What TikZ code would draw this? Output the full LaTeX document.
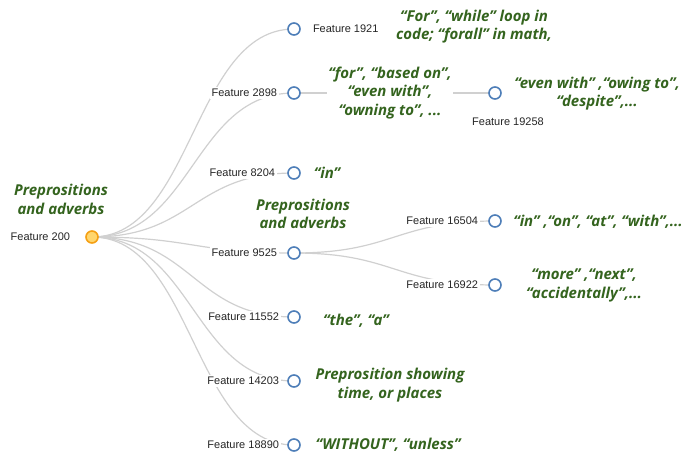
\documentclass[tikz,border=0pt]{standalone}
\usepackage{fontspec}
\setmainfont{Liberation Sans}
\newfontfamily\greenfont{Open Sans}
\usetikzlibrary{positioning,calc,backgrounds}
\definecolor{txtgreen}{RGB}{52,100,30}
\definecolor{edgegray}{RGB}{208,208,208}
\definecolor{nodeblue}{RGB}{78,126,184}
\definecolor{rootfill}{RGB}{255,214,110}
\definecolor{rootdraw}{RGB}{245,160,20}
\tikzset{
  circ/.style={circle, draw=nodeblue, line width=1.6pt, fill=white, minimum size=12pt, inner sep=0pt},
  rootcirc/.style={circle, draw=rootdraw, line width=1.6pt, fill=rootfill, minimum size=12pt, inner sep=0pt},
  lab/.style={font=\fontsize{11}{13}\selectfont, text=black!85, fill=white, inner sep=2pt},
  gtext/.style={font=\greenfont\bfseries\itshape\fontsize{15}{18.5}\selectfont, text=txtgreen, align=center, fill=white, inner sep=1pt},
  link/.style={draw=edgegray, line width=1.2pt,
    to path={let \p1=(\tikztostart), \p2=(\tikztotarget) in
      .. controls ({(\x1+\x2)/2},\y1) and ({(\x1+\x2)/2},\y2) .. (\tikztotarget)}}
}
\begin{document}
\begin{tikzpicture}[x=1pt,y=-1pt]
\useasboundingbox (0,0) rectangle (684,458);
% circles
\node[rootcirc] (n200) at (92,237) {};
\node[circ] (n1921) at (294,29) {};
\node[circ] (n2898) at (294,93) {};
\node[circ] (n8204) at (294,173) {};
\node[circ] (n9525) at (294,253) {};
\node[circ] (n11552) at (294,317) {};
\node[circ] (n14203) at (294,381) {};
\node[circ] (n18890) at (294,445) {};
\node[circ] (n19258) at (495,93) {};
\node[circ] (n16504) at (495,221) {};
\node[circ] (n16922) at (495,285) {};
% feature labels
\node[lab, left=13pt of n200] (l200) {Feature 200};
\node[lab, right=10pt of n1921] (l1921) {Feature 1921};
\node[lab, left=8pt of n2898] (l2898) {Feature 2898};
\node[lab, left=10pt of n8204] (l8204) {Feature 8204};
\node[lab, left=8pt of n9525] (l9525) {Feature 9525};
\node[lab, left=6pt of n11552] (l11552) {Feature 11552};
\node[lab, left=6pt of n14203] (l14203) {Feature 14203};
\node[lab, left=6pt of n18890] (l18890) {Feature 18890};
\node[lab] (l19258) at (508,122) {Feature 19258};
\node[lab, left=8pt of n16504] (l16504) {Feature 16504};
\node[lab, left=8pt of n16922] (l16922) {Feature 16922};
% green descriptions
\node[gtext] (g200) at (61,199.5) {Preprositions\\and adverbs};
\node[gtext] (g1921) at (474,26.5) {“For”, “while” loop in\\code; “forall” in math,};
\node[gtext] (g2898) at (390,93) {“for”, “based on”,\\“even with”,\\“owning to”, ...};
\node[gtext] (g19258) at (597,93.5) {“even with” ,“owing to”,\\“despite”,...};
\node[gtext] (g8204) at (327,173) {“in”};
\node[gtext] (g9525) at (303,214) {Preprositions\\and adverbs};
\node[gtext] (g16504) at (598,222) {“in” ,“on”, “at”, “with”,...};
\node[gtext] (g16922) at (584,285.5) {“more” ,“next”,\\“accidentally”,...};
\node[gtext] (g11552) at (356,321) {“the”, “a”};
\node[gtext] (g14203) at (390,385) {Preprosition showing\\time, or places};
\node[gtext] (g18890) at (388,445) {“WITHOUT”, “unless”};
% edges
\begin{pgfonlayer}{background}
\foreach \c in {n1921,n2898,n8204,n9525,n11552,n14203,n18890}
  \draw[link] (n200.center) to (\c.center);
\draw[link] (n2898.center) to (n19258.center);
\draw[link] (n9525.center) to (n16504.center);
\draw[link] (n9525.center) to (n16922.center);
\end{pgfonlayer}
\end{tikzpicture}
\end{document}
